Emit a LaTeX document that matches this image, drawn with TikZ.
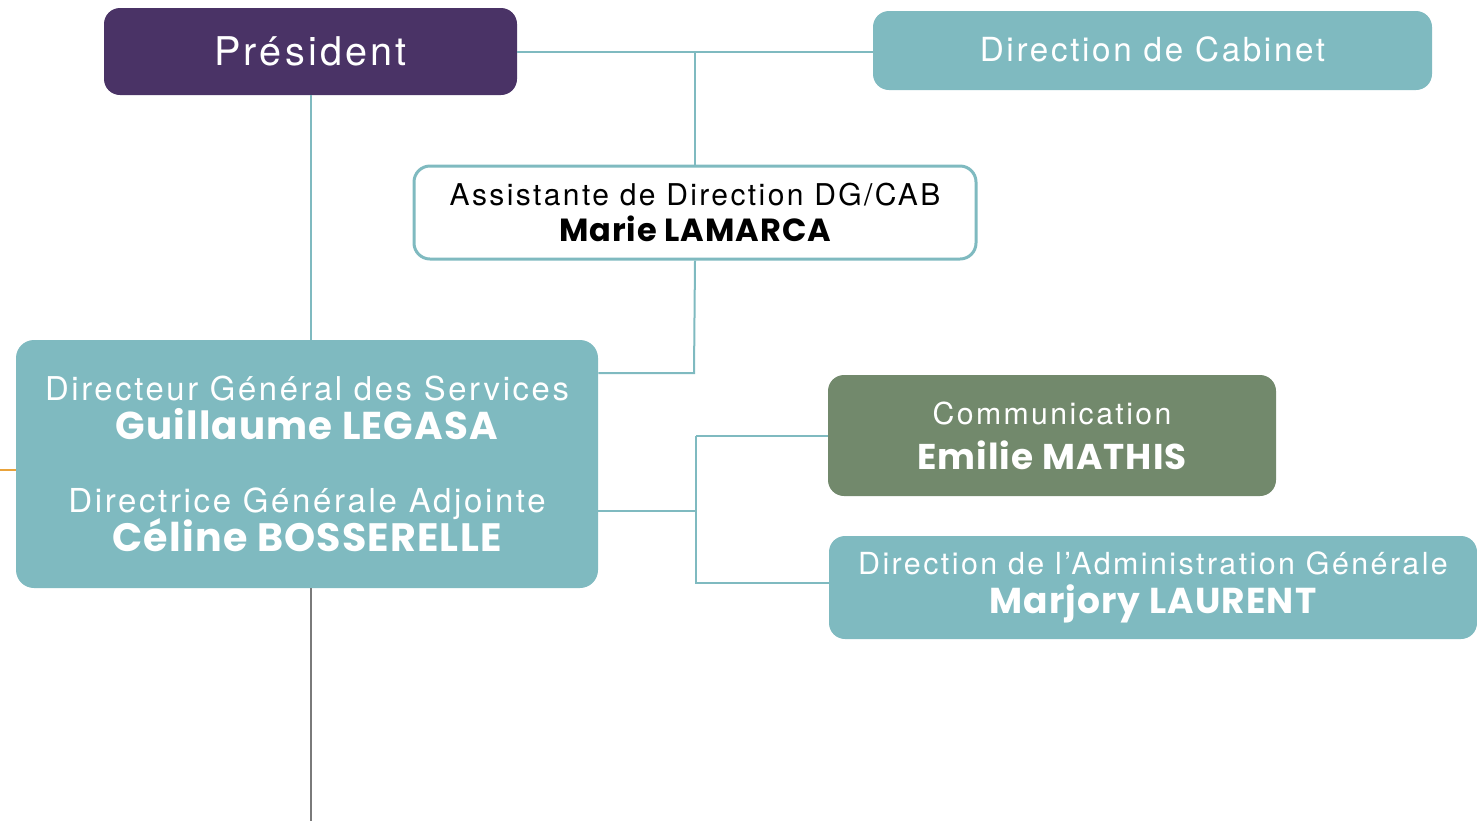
\documentclass[tikz,border=0pt]{standalone}
\usepackage{fontspec}
\usepackage{xcolor}
\setmainfont{TeX Gyre Heros}
\newfontfamily\lightfont{TeX Gyre Heros}[LetterSpace=8]
\newfontfamily\namefont{Poppins}[LetterSpace=3]
\definecolor{teal}{HTML}{7FBAC0}
\definecolor{prune}{HTML}{4A3366}
\definecolor{sauge}{HTML}{72896C}
\definecolor{ocre}{HTML}{E9A33B}
\definecolor{gris}{HTML}{7A7A7A}
\newcommand{\fn}[1]{\lightfont\fontsize{#1}{19.5pt}\selectfont}
\newcommand{\nm}[1]{\namefont\bfseries\fontsize{#1}{19.5pt}\selectfont}

\begin{document}
\begin{tikzpicture}[x=0.5pt,y=-0.5pt,
    box/.style={rounded corners=8pt,inner sep=0pt,align=center,text=white,font=\fontsize{14}{19.5pt}\selectfont},
    link/.style={draw=teal,line width=1pt}]
    \useasboundingbox (0,0) rectangle (1477,821);
    \node[box,fill=prune,minimum width=206.5pt,minimum height=43.5pt] (pres) at (310.5,51.5) {\fn{19.8}Président};
    \node[box,fill=teal,minimum width=279.5pt,minimum height=39.5pt] (cab) at (1152.5,50.5) {\fn{16.6}\raisebox{1.5pt}{Direction de Cabinet}};
    \node[box,fill=white,draw=teal,line width=1.5pt,text=black,minimum width=281pt,minimum height=46.5pt] (asst) at (695,212.5)
        {\fn{15}Assistante de Direction DG/CAB\\[-1.5pt]\nm{16}Marie LAMARCA};
    \node[box,fill=teal,rounded corners=9pt,minimum width=291pt,minimum height=124pt] (dgs) at (307,464)
        {\fn{16.4}Directeur Général des Services\\\nm{19.4}Guillaume LEGASA\\[17pt]
         \fn{16.5}Directrice Générale Adjointe\\[-2pt]\nm{19.8}Céline BOSSERELLE};
    \node[box,fill=sauge,minimum width=224pt,minimum height=60.5pt] (com) at (1052,435.5)
        {\fn{15.1}Communication\\[3pt]\nm{17.9}Emilie MATHIS};
    \node[box,fill=teal,minimum width=324pt,minimum height=51.5pt] (dag) at (1153,587.5)
        {\fn{15.2}Direction de l’Administration Générale\\\nm{18}Marjory LAURENT};
    \draw[link] (pres.east) -- (pres.east -| cab.west);
    \draw[link] (asst.north) -- (asst.north |- pres.east);
    \coordinate (asstjoin) at (694,373);
    \draw[link] (asst.south) -- (asstjoin) -- (asstjoin -| dgs.east);
    \draw[link] (pres.south) -- (pres.south |- dgs.north);
    \coordinate (branch) at (696,511);
    \coordinate (dagjoin) at (696,583);
    \draw[link] (dgs.east |- branch) -- (branch);
    \draw[link] (branch |- com.west) -- (com.west);
    \draw[link] (branch |- com.west) -- (dagjoin) -- (dagjoin -| dag.west);
    \coordinate (edge) at (0,470);
    \draw[ocre,line width=1pt] (edge) -- (edge -| dgs.west);
    \coordinate (bottom) at (311,821);
    \draw[gris,line width=1pt] (bottom |- dgs.south) -- (bottom);
\end{tikzpicture}
\end{document}
